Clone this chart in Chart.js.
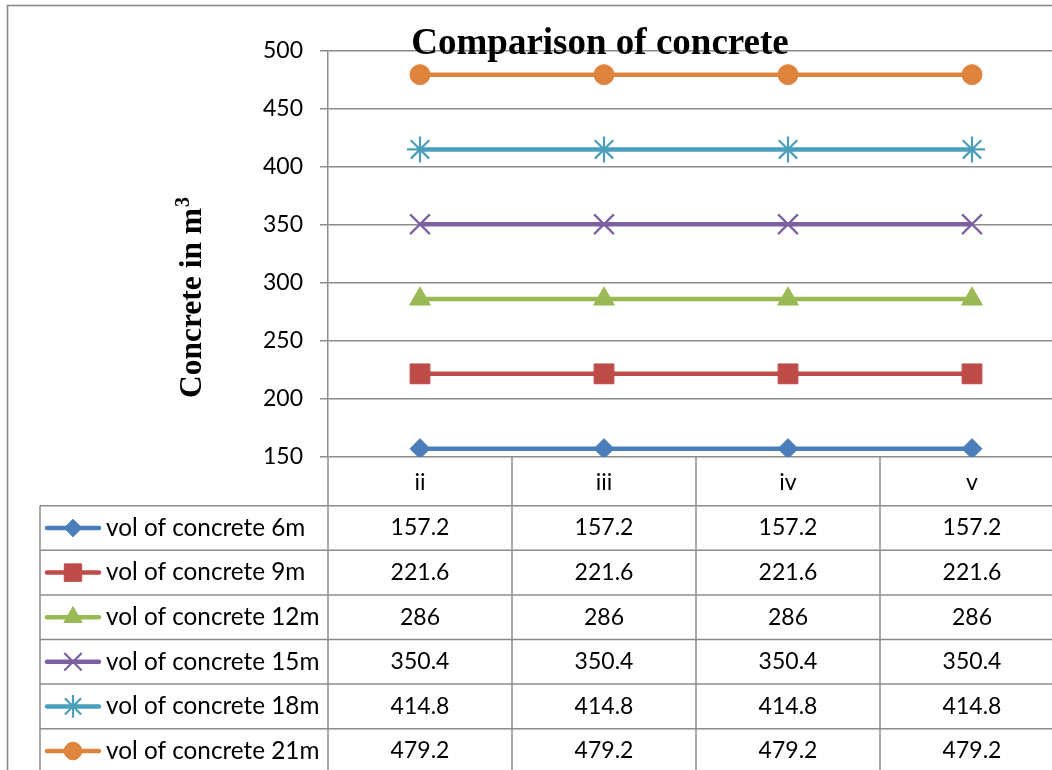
<!DOCTYPE html>
<html>
<head>
<meta charset="utf-8">
<title>Comparison of concrete</title>
<style>
  html, body { margin: 0; padding: 0; background: #fff; overflow: hidden; width: 1052px; height: 770px; }
  #wrap { position: absolute; left: 0; top: 0; width: 1100px; height: 770px; }
</style>
<script src="https://cdn.jsdelivr.net/npm/chart.js@4/dist/chart.umd.min.js"></script>
</head>
<body>
<div id="wrap"><canvas id="chart" width="1100" height="770"></canvas></div>
<script>
// Categories along the x axis
const categories = ['ii', 'iii', 'iv', 'v'];

// Series names
const seriesNames = [
  'vol of concrete 6m',
  'vol of concrete 9m',
  'vol of concrete 12m',
  'vol of concrete 15m',
  'vol of concrete 18m',
  'vol of concrete 21m'
];

// Series values (m³)
const vol6m  = [157.2, 157.2, 157.2, 157.2];
const vol9m  = [221.6, 221.6, 221.6, 221.6];
const vol12m = [286, 286, 286, 286];
const vol15m = [350.4, 350.4, 350.4, 350.4];
const vol18m = [414.8, 414.8, 414.8, 414.8];
const vol21m = [479.2, 479.2, 479.2, 479.2];

// Value axis range and tick step
const yMin = 150;
const yMax = 500;
const yStep = 50;

const chartTitle = 'Comparison of concrete';
const yTitle = 'Concrete in m';
const yTitleSup = '3';

// Styling
const seriesColors = ['#4A7EBB', '#BE4B48', '#98B954', '#7D60A0', '#4A9FB9', '#DF843C'];
const seriesMarkers = ['rectRot', 'rect', 'triangle', 'crossRot', 'star', 'circle'];
const markerRadius = [10, 14, 12, 14, 13, 10];
const gridColor = '#8c8c8c';
const bodyFont = 'Lato, "Open Sans", sans-serif';
const serifFont = '"Liberation Serif", "DejaVu Serif", serif';

const seriesValues = [vol6m, vol9m, vol12m, vol15m, vol18m, vol21m];

const datasets = seriesNames.map((name, i) => {
  const open = seriesMarkers[i] === 'crossRot' || seriesMarkers[i] === 'star';
  return {
    label: name,
    data: seriesValues[i],
    borderColor: seriesColors[i],
    backgroundColor: seriesColors[i],
    borderWidth: 4.5,
    tension: 0,
    pointStyle: seriesMarkers[i],
    pointRadius: markerRadius[i],
    pointHoverRadius: markerRadius[i],
    pointBackgroundColor: seriesColors[i],
    pointBorderColor: seriesColors[i],
    pointBorderWidth: open ? 2.2 : 1
  };
});

// Draws the frame, titles and the data table beneath the plot
const tablePlugin = {
  id: 'dataTable',
  afterDraw(chart) {
    const { ctx, chartArea, scales } = chart;
    const xs = scales.x;
    const left = chartArea.left, right = chartArea.right, bottom = chartArea.bottom;
    const catH = 48.7;
    const rowH = 44.6;
    const tableLeft = 40;
    const rowTop = bottom + catH;
    const H = chart.height;

    ctx.save();

    // outer frame
    ctx.strokeStyle = '#8a8a8a';
    ctx.lineWidth = 1.6;
    ctx.strokeRect(7.5, 5.5, 1300, 1000);

    // table grid
    ctx.strokeStyle = gridColor;
    ctx.lineWidth = 1.5;
    const colW = (right - left) / categories.length;
    for (let i = 0; i <= categories.length; i++) {
      const x = left + i * colW;
      ctx.beginPath();
      ctx.moveTo(x, bottom);
      ctx.lineTo(x, H + 5);
      ctx.stroke();
    }
    ctx.beginPath();
    ctx.moveTo(tableLeft, rowTop);
    ctx.lineTo(tableLeft, H + 5);
    ctx.stroke();
    for (let r = 0; r <= seriesNames.length; r++) {
      const y = rowTop + r * rowH;
      ctx.beginPath();
      ctx.moveTo(tableLeft, y);
      ctx.lineTo(right, y);
      ctx.stroke();
    }

    // category labels
    ctx.fillStyle = '#000';
    ctx.font = '23px ' + bodyFont;
    ctx.textAlign = 'center';
    ctx.textBaseline = 'middle';
    categories.forEach((c, i) => {
      ctx.fillText(c, xs.getPixelForValue(i), bottom + catH / 2 + 1);
    });

    // rows: legend key + values
    chart.data.datasets.forEach((ds, r) => {
      const cy = rowTop + r * rowH + rowH / 2;
      ctx.strokeStyle = ds.borderColor;
      ctx.lineWidth = 4.5;
      ctx.lineCap = 'round';
      ctx.beginPath();
      ctx.moveTo(47, cy);
      ctx.lineTo(99, cy);
      ctx.stroke();
      ctx.lineCap = 'butt';
      if (Chart.helpers && Chart.helpers.drawPoint) {
        ctx.fillStyle = ds.backgroundColor;
        ctx.strokeStyle = ds.borderColor;
        ctx.lineWidth = ds.pointBorderWidth;
        Chart.helpers.drawPoint(ctx, {
          pointStyle: ds.pointStyle,
          radius: ds.pointRadius * 0.88,
          rotation: 0,
          borderWidth: ds.pointBorderWidth
        }, 73, cy);
      }
      ctx.fillStyle = '#000';
      ctx.font = '24.3px ' + bodyFont;
      ctx.textAlign = 'left';
      ctx.fillText(ds.label, 106, cy);
      ctx.font = '23px ' + bodyFont;
      ctx.textAlign = 'center';
      ds.data.forEach((v, i) => {
        ctx.fillText(String(v), xs.getPixelForValue(i), cy);
      });
    });

    // chart title
    ctx.fillStyle = '#000';
    ctx.font = 'bold 37px ' + serifFont;
    ctx.textAlign = 'center';
    ctx.textBaseline = 'alphabetic';
    ctx.fillText(chartTitle, 600, 54);

    // value axis title with superscript
    ctx.translate(201, 298);
    ctx.rotate(-Math.PI / 2);
    ctx.font = 'bold 31.5px ' + serifFont;
    const mainW = ctx.measureText(yTitle).width;
    ctx.font = 'bold 20px ' + serifFont;
    const supW = ctx.measureText(yTitleSup).width;
    const start = -(mainW + supW) / 2;
    ctx.textAlign = 'left';
    ctx.font = 'bold 31.5px ' + serifFont;
    ctx.fillText(yTitle, start, 0);
    ctx.font = 'bold 20px ' + serifFont;
    ctx.fillText(yTitleSup, start + mainW + 1, -12);

    ctx.restore();
  }
};

new Chart(document.getElementById('chart'), {
  type: 'line',
  data: { labels: categories, datasets: datasets },
  options: {
    responsive: false,
    animation: false,
    events: [],
    layout: { padding: { left: 0, top: 50.5, right: 36, bottom: 313 } },
    plugins: {
      legend: { display: false },
      title: { display: false },
      tooltip: { enabled: false }
    },
    scales: {
      x: {
        type: 'category',
        display: false,
        offset: true
      },
      y: {
        min: yMin,
        max: yMax,
        afterFit(scale) { scale.width = 328; },
        border: { display: true, color: gridColor, width: 1.5 },
        grid: { color: gridColor, lineWidth: 1.5, tickLength: 8, drawTicks: true },
        ticks: {
          stepSize: yStep,
          padding: 17,
          color: '#000',
          font: { family: bodyFont, size: 23 }
        }
      }
    }
  },
  plugins: [tablePlugin]
});
</script>
</body>
</html>
